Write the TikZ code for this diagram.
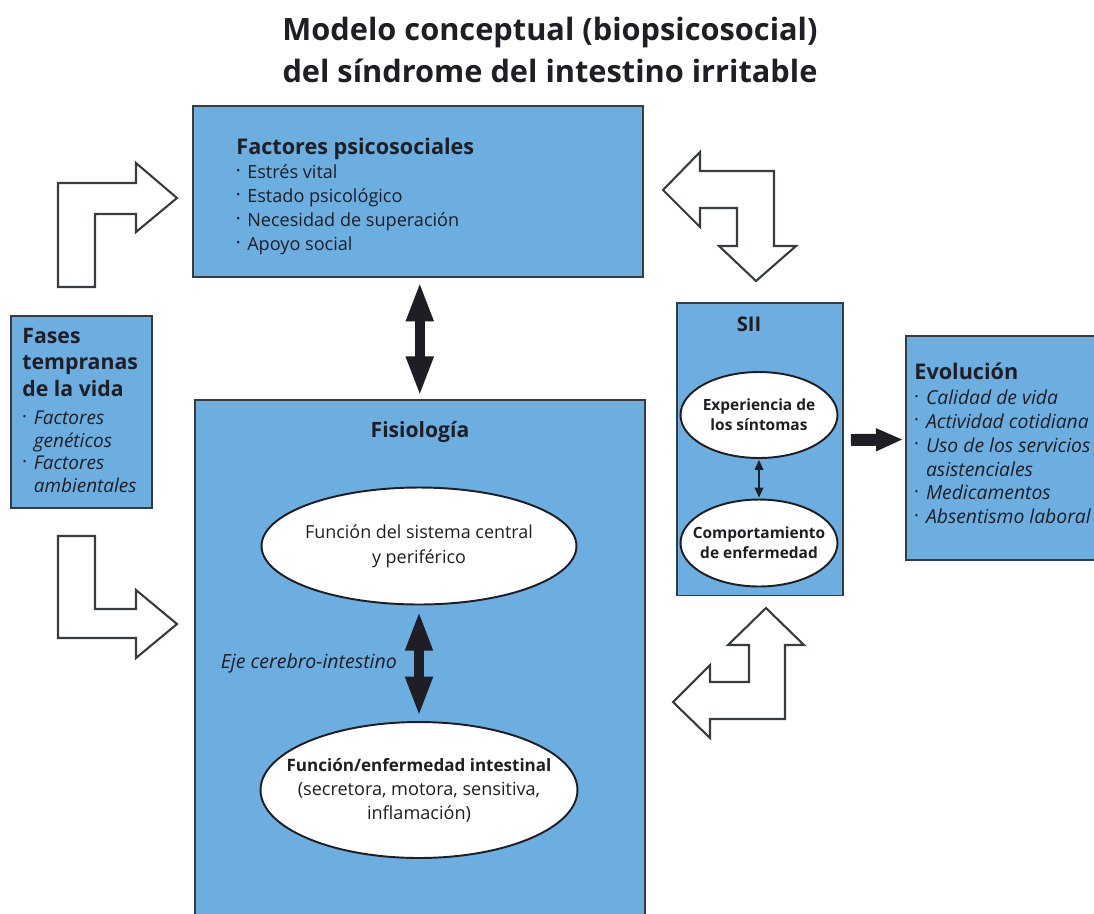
\documentclass[tikz,border=0pt]{standalone}
\usepackage{fontspec}
\setmainfont{Open Sans}
\usetikzlibrary{shapes.geometric, arrows.meta, positioning, calc}
\definecolor{blue1}{RGB}{107,174,223}
\definecolor{gray1}{RGB}{55,60,66}
\definecolor{ink1}{RGB}{30,30,36}
\newcommand{\itm}{\makebox[0.6em][l]{\raisebox{0.22em}{\fontsize{6}{6}\selectfont\textbullet}}}
\newcommand{\cnt}{\hspace*{0.6em}}

\begin{document}
\begin{tikzpicture}[x=0.02cm, y=-0.02cm,
  box/.style={draw=gray1, line width=1.1pt, fill=blue1, inner sep=0pt},
  oval/.style={ellipse, draw=ink1, line width=1.1pt, fill=white, inner sep=0pt, align=center, text=ink1},
  txt/.style={inner sep=0pt, align=left, text=ink1},
  bigarrow/.style={draw=ink1, line width=5.7pt, {Triangle[length=0.8cm, width=0.5cm]}-{Triangle[length=0.8cm, width=0.5cm]}},
  smallarrow/.style={draw=ink1, line width=1pt, {Triangle[length=0.2cm, width=0.17cm]}-{Triangle[length=0.2cm, width=0.17cm]}},
  midarrow/.style={draw=ink1, line width=6.8pt, -{Triangle[length=0.54cm, width=0.42cm]}},
  hollow/.style={draw=gray1, line width=1.2pt, fill=white, line join=miter}]

  \useasboundingbox (0,0) rectangle (1094,913);
  \clip (0,0) rectangle (1094,913);

  % title
  \node[font=\fontsize{17.5}{24}\selectfont\bfseries, align=center, text=ink1] (title) at (550,50)
    {Modelo conceptual (biopsicosocial)\\del síndrome del intestino irritable};

  % boxes
  \node[box, minimum width=9cm, minimum height=3.42cm] (psico) at (418,191.5) {};
  \node[box, minimum width=2.82cm, minimum height=3.84cm] (fases) at (81.5,412) {};
  \node[box, minimum width=9cm, minimum height=10.6cm] (fisio) at (420,665) {};
  \node[box, minimum width=3.32cm, minimum height=5.86cm] (sii) at (760,449) {};
  \node[box, minimum width=3.88cm, minimum height=4.48cm] (evol) at (1003,448) {};

  % box texts
  \node[txt, anchor=north west, font=\fontsize{10.3}{13.6}\selectfont] (psicotxt) at ([shift={(44,33)}]psico.north west)
    {{\fontsize{12.3}{13.6}\selectfont\bfseries Factores psicosociales}\\
     \itm Estrés vital\\ \itm Estado psicológico\\ \itm Necesidad de superación\\ \itm Apoyo social};
  \node[txt, anchor=north west, font=\fontsize{12.1}{15}\selectfont\bfseries] (fasestit) at ([shift={(12,13)}]fases.north west)
    {Fases\\tempranas\\de la vida};
  \node[txt, below=8pt of fasestit.south west, anchor=north west, font=\fontsize{10.8}{12.8}\selectfont\itshape] (fasesitems)
    {\itm Factores\\ \cnt genéticos\\ \itm Factores\\ \cnt ambientales};
  \node[txt, anchor=north west, font=\fontsize{12.3}{14}\selectfont\bfseries] (evoltit) at ([shift={(9,28)}]evol.north west)
    {Evolución};
  \node[txt, below=5pt of evoltit.south west, anchor=north west, font=\fontsize{11}{13.6}\selectfont\itshape] (evolitems)
    {\itm Calidad de vida\\ \itm Actividad cotidiana\\ \itm Uso de los servicios\\ \cnt asistenciales\\
     \itm Medicamentos\\ \itm Absentismo laboral};
  \node[txt, anchor=north, font=\fontsize{12}{14}\selectfont\bfseries] (fisiotit) at ([shift={(0,22)}]fisio.north) {Fisiología};
  \node[txt, anchor=north, font=\fontsize{11.5}{14}\selectfont\bfseries] (siitit) at ([shift={(-11,15)}]sii.north) {SII};

  % ovals
  \node[oval, inner xsep=-3pt, minimum width=6.3cm, minimum height=2.34cm, font=\fontsize{10.2}{14}\selectfont] (ell1) at (419,546)
    {Función del sistema central\\y periférico};
  \node[oval, inner xsep=-12pt, minimum width=6.34cm, minimum height=2.72cm, font=\fontsize{10.3}{13.6}\selectfont] (ell2) at (419,790)
    {{\fontsize{9.7}{13.6}\selectfont\bfseries Función/enfermedad intestinal}\\(secretora, motora, sensitiva,\\inflamación)};
  \node[oval, inner xsep=-5pt, minimum width=3.14cm, minimum height=1.72cm, font=\fontsize{8.8}{11.3}\selectfont\bfseries] (exper) at (759,415)
    {Experiencia de\\los síntomas};
  \node[oval, inner xsep=-7.5pt, minimum width=3.14cm, minimum height=1.74cm, font=\fontsize{8.8}{11.3}\selectfont\bfseries] (compor) at (759,543)
    {Comportamiento\\de enfermedad};

  \coordinate (ejemid) at ($(ell1.south)!0.5!(ell2.north)$);
  \node[txt, anchor=west, font=\fontsize{11.1}{12}\selectfont\itshape] (eje) at ([xshift=15pt]fisio.west |- ejemid)
    {Eje cerebro-intestino};

  % solid arrows
  \draw[bigarrow, shorten <=2pt, shorten >=1.5pt] ([xshift=1pt]psico.south) -- ([xshift=1pt]psico.south |- fisio.north);
  \draw[bigarrow, shorten <=3pt, shorten >=2.5pt] (ell1.south) -- (ell2.north);
  \draw[smallarrow, shorten <=0.5pt, shorten >=0.5pt] (exper.south) -- (compor.north);
  \draw[midarrow] ([shift={(7,-9)}]sii.east) -- ([shift={(-2,-8.5)}]evol.west);

  % hollow arrows
  \draw[hollow] (58,287) -- (58,183) -- (136,183) -- (136,163) -- (177,198) -- (136,232) -- (136,214)
    -- (95,214) -- (95,287) -- cycle;
  \draw[hollow] (58,536) -- (95,536) -- (95,609) -- (136,609) -- (136,590) -- (177,624) -- (136,658)
    -- (136,638) -- (58,638) -- cycle;
  \draw[hollow] (663,190) -- (700,152) -- (700,171) -- (774,171) -- (774,246) -- (796,246) -- (756,281)
    -- (719,246) -- (737,246) -- (737,208) -- (700,208) -- (700,227) -- cycle;
  \draw[hollow] (766,608) -- (804,645) -- (785,645) -- (785,719) -- (710,719) -- (710,738) -- (673,702)
    -- (710,665) -- (710,682) -- (749,682) -- (749,645) -- (728,645) -- cycle;
\end{tikzpicture}
\end{document}
